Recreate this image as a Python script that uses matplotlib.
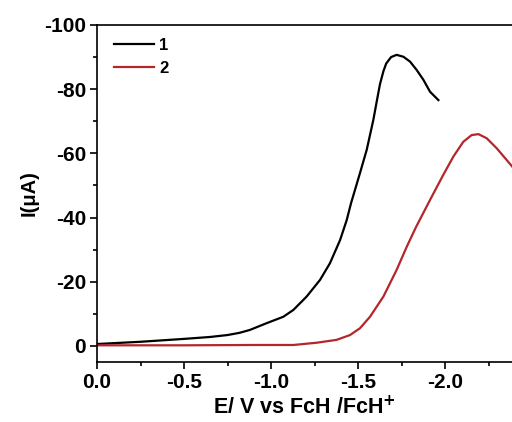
import numpy as np
import matplotlib.pyplot as plt
from matplotlib.ticker import MultipleLocator

plt.rcParams['font.family'] = ['Liberation Sans', 'DejaVu Sans']
plt.rcParams['font.weight'] = 'bold'

# curve 1 (black)
e1 = [0.0, -0.25, -0.5, -0.65, -0.75, -0.82, -0.879, -0.975, -1.071, -1.128, -1.205,
      -1.282, -1.339, -1.397, -1.435, -1.46, -1.511, -1.55, -1.588, -1.607, -1.626,
      -1.646, -1.662, -1.69, -1.722, -1.761, -1.799, -1.837, -1.876, -1.914, -1.962]
i1 = [-0.6, -1.3, -2.2, -2.8, -3.4, -4.1, -5.0, -7.1, -9.1, -11.2, -15.4,
      -20.6, -25.8, -33.0, -39.2, -44.5, -53.8, -61.1, -70.4, -76.0, -81.5,
      -85.6, -88.0, -90.0, -90.7, -90.1, -88.6, -86.0, -82.9, -79.2, -76.6]

# curve 2 (red)
e2 = [0.0, -0.5, -0.879, -1.128, -1.262, -1.377, -1.454, -1.511, -1.569, -1.646,
      -1.722, -1.780, -1.833, -1.914, -1.990, -2.048, -2.105, -2.153, -2.192,
      -2.240, -2.297, -2.355, -2.40]
i2 = [-0.2, -0.2, -0.3, -0.3, -1.0, -1.9, -3.4, -5.5, -9.1, -15.4,
      -23.7, -30.9, -37.0, -45.5, -53.3, -59.0, -63.6, -65.7, -66.0,
      -64.7, -61.6, -57.9, -55.0]

fig = plt.figure(figsize=(5.12, 4.22), dpi=100)
ax = fig.add_axes([97/512, 1-362/422, (512-97)/512, (362-25)/422])

ax.plot(e1, i1, color='black', lw=1.6, label='1', solid_joinstyle='round')
ax.plot(e2, i2, color='#b3262b', lw=1.6, label='2', solid_joinstyle='round')

ax.set_xlim(0, -2.385)
ax.set_ylim(5, -100)
ax.xaxis.set_major_locator(MultipleLocator(0.5))
ax.xaxis.set_minor_locator(MultipleLocator(0.25))
ax.yaxis.set_major_locator(MultipleLocator(20))
ax.yaxis.set_minor_locator(MultipleLocator(10))
ax.xaxis.set_major_formatter(plt.FuncFormatter(lambda v, p: f'{v:.1f}' if v != 0 else '0.0'))
ax.yaxis.set_major_formatter(plt.FuncFormatter(lambda v, p: f'{v:.0f}' if v != 0 else '0'))

ax.spines['right'].set_visible(False)
for s in ax.spines.values():
    s.set_linewidth(1.2)
ax.tick_params(which='major', direction='out', length=5, width=1.2, labelsize=15, pad=3)
ax.tick_params(which='minor', direction='out', length=3, width=1.2)

ax.set_xlabel('E/ V vs FcH /FcH$^{\\mathbf{+}}$', fontsize=15.5, fontweight='bold', labelpad=3)
ax.set_ylabel('I(μA)', fontsize=14.5, fontweight='bold', labelpad=4)

leg = ax.legend(loc='upper left', frameon=False, fontsize=12, handlelength=2.4,
                handletextpad=0.3, labelspacing=0.45, borderaxespad=0.4,
                bbox_to_anchor=(0.01, 1.0))

fig.savefig('out.png', dpi=100)
